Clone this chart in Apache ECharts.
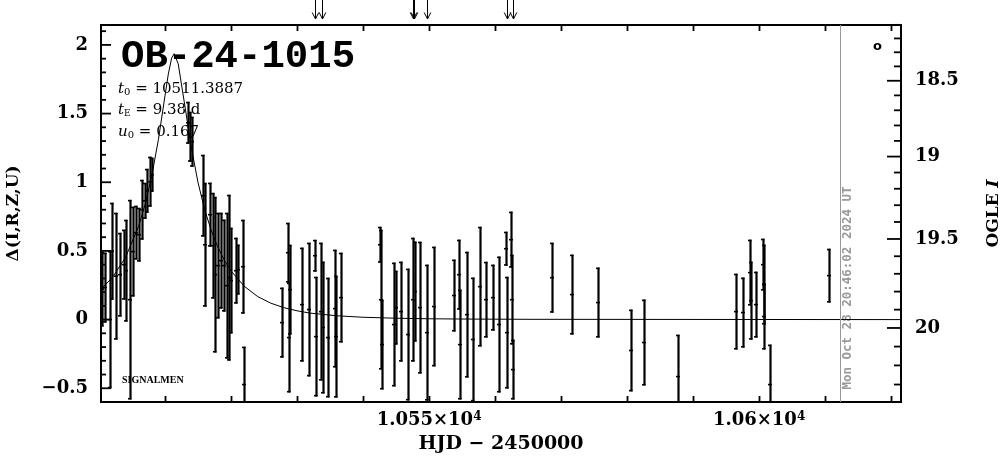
<!DOCTYPE html>
<html><head><meta charset="utf-8">
<script src="https://cdn.jsdelivr.net/npm/echarts@6/dist/echarts.min.js"></script>
<style>html,body{margin:0;padding:0;background:#fff}#c{width:1004px;height:459px}</style>
</head><body><div id="c"></div>
<script>
// ---- data ----
const hjd = [10500.45,10500.91,10501.67,10501.97,10502.58,10503.18,10503.79,10504.09,10504.70,10505.15,10505.61,10506.06,10506.52,10506.97,10507.27,10507.73,10508.03,
 10513.48,10513.79,10514.09,10515.76,10516.06,10516.82,10517.27,10517.58,10518.03,10518.48,10518.94,10519.39,10519.70,10520.00,10520.76,10521.06,10521.82,10521.97,
 10527.73,10528.64,10528.79,10528.94,10530.76,10531.82,10532.73,10532.88,10533.64,10533.94,10534.70,10535.76,10535.91,10536.67,
 10542.58,10542.73,10542.88,10544.70,10545.00,10545.76,10546.82,10547.58,10547.88,10548.64,10549.70,10550.76,
 10553.79,10554.55,10554.70,10555.76,10556.67,10557.73,10558.64,10559.70,10560.61,10561.67,10561.82,10562.42,10562.58,10562.73,
 10568.64,10571.67,10575.61,10580.61,10582.58,10587.73,10596.52,10597.58,10598.64,10598.79,10599.55,10600.61,10600.70,10600.76,10601.67,10610.61];
const delta = [0.222,0.233,0.000,0.498,0.316,0.327,0.400,0.356,0.145,0.495,0.633,0.618,0.800,0.865,0.938,1.004,1.055,
 1.433,1.331,1.295,0.902,0.545,0.764,0.538,0.327,0.393,0.429,0.393,0.247,0.305,0.284,0.356,0.364,0.385,-0.473,
 -0.022,0.487,-0.131,0.218,0.109,0.073,0.465,-0.124,0.058,-0.058,-0.131,0.080,-0.124,0.160,
 0.545,0.145,-0.182,-0.036,0.087,0.058,-0.109,0.145,0.204,0.087,-0.095,0.095,
 0.175,0.327,-0.182,0.036,-0.145,0.240,0.145,0.160,-0.036,0.516,-0.095,0.582,0.145,-0.364,
 0.305,0.182,0.124,-0.225,-0.167,-0.415,0.058,0.051,0.342,0.138,0.109,0.400,0.255,0.022,-0.473,0.320];
const err = [0.273,0.255,0.500,0.353,0.462,0.305,0.255,0.371,0.727,0.327,0.196,0.196,0.218,0.131,0.160,0.182,0.124,
 0.153,0.182,0.182,0.298,0.451,0.233,0.385,0.567,0.385,0.349,0.335,0.531,0.604,0.385,0.240,0.182,0.342,0.276,
 0.255,0.218,0.400,0.327,0.415,0.487,0.116,0.436,0.502,0.480,0.436,0.429,0.444,0.327,
 0.131,0.509,0.327,0.451,0.269,0.364,0.480,0.451,0.364,0.480,0.495,0.436,
 0.262,0.255,0.400,0.458,0.451,0.436,0.276,0.240,0.495,0.124,0.407,0.204,0.327,0.218,
 0.255,0.291,0.255,0.298,0.313,0.305,0.276,0.255,0.240,0.284,0.240,0.189,0.291,0.240,0.291,0.196];

const modelHJD = [10500.3,10502,10504,10506,10507,10508,10509,10510,10510.5,10511,10511.39,10512,10513,10514,10515,10516,10517,10518,10519,10520,10522,10524,10526,10528,10530,10532,10536,10540,10545,10550,10555,10560,10565.6,10621.5];
const modelDelta = [0.222,0.305,0.451,0.680,0.841,1.048,1.312,1.631,1.788,1.904,1.936,1.862,1.558,1.249,0.998,0.802,0.649,0.528,0.431,0.354,0.243,0.169,0.120,0.087,0.064,0.047,0.028,0.017,0.010,0.006,0.004,0.003,0.002,0.000];

const arrowHJD = [10532.73,10533.79,10547.50,10547.66,10549.70,10561.82,10562.73];
const nowHJD = 10612.36;

const xTicks = [10510,10520,10530,10540,10550,10560,10570,10580,10590,10600,10610,10620];
const xLabelMain = {10550: '1.055×10', 10600: '1.06×10'};
const xLabelExp = '4';
const leftMajor = [-0.5,0,0.5,1,1.5,2];
const leftMinor = [-0.4,-0.3,-0.2,-0.1,0.1,0.2,0.3,0.4,0.6,0.7,0.8,0.9,1.1,1.2,1.3,1.4,1.6,1.7,1.8,1.9,2.1];
const rightMajor = [18.5,19,19.5,20];
const rightMinor = [18.1,18.2,18.3,18.4,18.6,18.7,18.8,18.9,19.1,19.2,19.3,19.4,19.6,19.7,19.8,19.9,20.1,20.2,20.3];

const title = 'OB-24-1015';
const t0Text = '10511.3887', tEText = '9.38 d', u0Text = '0.167';
const dateText = 'Mon Oct 28 20:46:02 2024 UT';

// ---- axes ----
const X_MIN = 10500.3, X_MAX = 10621.5, Y_MIN = -0.6, Y_MAX = 2.145;
const X_MID = 10560, Y_MID = 1;
// OGLE I magnitude -> Delta (right-axis scale)
function magToDelta(I){ const u = I - 19.25; return 0.893 - 1.2*u - 0.096*u*u; }

const SERIF = '"DejaVu Serif", serif';
const chart = echarts.init(document.getElementById('c'), null, {renderer:'canvas'});
const AXLINE = {show:true, onZero:false, lineStyle:{color:'#000', width:2}};

// tick marks: [x, y, kind, label]  kind 0=x tick (top+bottom), 1=left major, 2=left minor, 3=right major(label), 4=right minor
const tickData = []
  .concat(xTicks.map(v=>[v, Y_MID, 0, v]))
  .concat(leftMajor.map(v=>[X_MID, v, 1, v]))
  .concat(leftMinor.map(v=>[X_MID, v, 2, v]))
  .concat(rightMajor.map(m=>[X_MID, magToDelta(m), 3, m]))
  .concat(rightMinor.map(m=>[X_MID, magToDelta(m), 4, m]));

const opt = {
  animation:false,
  backgroundColor:'#fff',
  grid:{left:101, right:103, top:25, bottom:57, show:true, borderColor:'#000', borderWidth:2, backgroundColor:'transparent', containLabel:false, outerBoundsMode:'none'},
  xAxis:[{
    type:'value', min:X_MIN, max:X_MAX, splitNumber:12, position:'bottom',
    axisLine:AXLINE, splitLine:{show:false},
    axisTick:{show:false},
    axisLabel:{margin:9, color:'#000', fontFamily:SERIF, fontWeight:'bold', fontSize:18,
      formatter:function(v){ const k=Math.round(v); if(Math.abs(v-k)<1e-6 && xLabelMain[k]) return '{a|'+xLabelMain[k]+'}{s|'+xLabelExp+'}'; return ''; },
      rich:{a:{fontFamily:SERIF, fontWeight:'bold', fontSize:18, color:'#000'}, s:{fontFamily:SERIF, fontWeight:'bold', fontSize:12, color:'#000', verticalAlign:'top', padding:[0,0,7,0]}}},
    name:'HJD − 2450000', nameLocation:'middle', nameGap:32,
    nameTextStyle:{color:'#000', fontFamily:SERIF, fontWeight:'bold', fontSize:19}
  }],
  yAxis:[{
    type:'value', min:Y_MIN, max:Y_MAX, splitNumber:5, position:'left',
    axisLine:AXLINE, splitLine:{show:false},
    axisTick:{show:false},
    axisLabel:{margin:13, color:'#000', fontFamily:SERIF, fontWeight:'bold', fontSize:18,
      formatter:function(v){ const k=Math.round(v*2); if(Math.abs(v*2-k)>1e-6) return ''; const a=k/2; return a<0?'−'+(-a):String(a); }},
    name:'Δ(I,R,Z,U)', nameLocation:'middle', nameGap:79, nameRotate:90,
    nameTextStyle:{color:'#000', fontFamily:SERIF, fontWeight:'bold', fontSize:17}
  },{
    type:'value', min:Y_MIN, max:Y_MAX, position:'right',
    axisLine:AXLINE, splitLine:{show:false}, axisTick:{show:false}, axisLabel:{show:false},
    name:'{a|OGLE }{b|I}', nameLocation:'middle', nameGap:84, nameRotate:90,
    nameTextStyle:{color:'#000', fontFamily:SERIF, fontWeight:'bold', fontSize:17,
      rich:{a:{fontFamily:SERIF, fontWeight:'bold', fontSize:17, color:'#000'}, b:{fontFamily:SERIF, fontWeight:'bold', fontStyle:'italic', fontSize:17, color:'#000'}}}
  }],
  graphic:[
    {type:'text', left:121, top:38, style:{text:title, font:'bold 39px "Liberation Mono", monospace', fill:'#000'}},
    {type:'text', left:118, top:82, style:{text:'{i|t}{s|0}{n| = '+t0Text+'}', fill:'#000', rich:{i:{font:'italic 15px '+SERIF}, s:{font:'10px '+SERIF, verticalAlign:'bottom', padding:[6,0,0,0]}, n:{font:'15px '+SERIF}}}},
    {type:'text', left:118, top:103, style:{text:'{i|t}{s|E}{n| = '+tEText+'}', fill:'#000', rich:{i:{font:'italic 15px '+SERIF}, s:{font:'9px '+SERIF, verticalAlign:'bottom', padding:[6,0,0,0]}, n:{font:'15px '+SERIF}}}},
    {type:'text', left:118, top:125, style:{text:'{i|u}{s|0}{n| = '+u0Text+'}', fill:'#000', rich:{i:{font:'italic 15px '+SERIF}, s:{font:'10px '+SERIF, verticalAlign:'bottom', padding:[6,0,0,0]}, n:{font:'15px '+SERIF}}}},
    {type:'text', left:122, top:375, style:{text:'SIGNALMEN', font:'bold 10px "Liberation Serif", serif', fill:'#000'}},
    {type:'text', left:873, top:40, style:{text:'o', font:'bold 13px "DejaVu Sans", sans-serif', fill:'#000'}},
    {type:'text', x:848, y:288, rotation:Math.PI/2, style:{text:dateText, font:'bold 12.5px "DejaVu Sans Mono", monospace', fill:'#9a9a9a', align:'center', verticalAlign:'middle', textAlign:'center', textVerticalAlign:'middle'}}
  ],
  series:[
    {type:'line', xAxisIndex:0, yAxisIndex:0, data:modelHJD.map((x,i)=>[x, modelDelta[i]]), showSymbol:false, symbol:'none',
     lineStyle:{color:'#000', width:1}, clip:true, silent:true, z:3,
     markLine:{silent:true, symbol:'none', label:{show:false}, lineStyle:{color:'#999', width:1, type:'solid'}, data:[{xAxis:nowHJD}]}},
    {type:'custom', xAxisIndex:0, yAxisIndex:0, clip:true, z:4,
     data:hjd.map((x,i)=>[x, delta[i], err[i]]), encode:{x:0, y:1},
     renderItem:function(params, api){
       const x=api.value(0), y=api.value(1), e=api.value(2);
       const t=api.coord([x, y+e]), b=api.coord([x, y-e]), m=api.coord([x, y]);
       const px=Math.round(m[0])+0.5;
       return {type:'group', children:[
         {type:'line', shape:{x1:px, y1:t[1], x2:px, y2:b[1]}, style:{stroke:'#000', lineWidth:2.2}},
         {type:'line', shape:{x1:px-2.5, y1:t[1]+0.8, x2:px+1, y2:t[1]+0.8}, style:{stroke:'#000', lineWidth:1.6}},
         {type:'line', shape:{x1:px-2.5, y1:b[1]-0.8, x2:px+1, y2:b[1]-0.8}, style:{stroke:'#000', lineWidth:1.6}},
         {type:'line', shape:{x1:px-2.5, y1:m[1], x2:px+1.5, y2:m[1]}, style:{stroke:'#000', lineWidth:1.6}}
       ]};
     }},
    {type:'custom', xAxisIndex:0, yAxisIndex:0, clip:false, silent:true, z:6,
     data:tickData, encode:{x:0, y:1},
     renderItem:function(params, api){
       const kind=api.value(2);
       const cs=params.coordSys;
       const L=cs.x, R=cs.x+cs.width, T=cs.y, B=cs.y+cs.height;
       const p=api.coord([api.value(0), api.value(1)]);
       if(kind===0){
         const x=Math.round(p[0])+0.5;
         return {type:'group', children:[
           {type:'line', shape:{x1:x, y1:B, x2:x, y2:B-6}, style:{stroke:'#000', lineWidth:1.8}},
           {type:'line', shape:{x1:x, y1:T, x2:x, y2:T+6}, style:{stroke:'#000', lineWidth:1.8}}
         ]};
       }
       if(kind===1||kind===2){
         return {type:'group', children:[
           {type:'line', shape:{x1:L, y1:p[1], x2:L+(kind===1?10:5), y2:p[1]}, style:{stroke:'#000', lineWidth:1.8}}
         ]};
       }
       const major=kind===3;
       const len=major?14:7;
       const ch=[{type:'line', shape:{x1:R-len, y1:p[1], x2:R, y2:p[1]}, style:{stroke:'#000', lineWidth:1.8}}];
       if(major){
         ch.push({type:'text', x:R+14, y:p[1], style:{text:String(api.value(3)), font:'bold 18px '+SERIF, fill:'#000', align:'left', verticalAlign:'middle', textAlign:'left', textVerticalAlign:'middle'}});
       }
       return {type:'group', children:ch};
     }},
    {type:'custom', xAxisIndex:0, yAxisIndex:0, clip:false, silent:true, z:5,
     data:arrowHJD.map(h=>[h, Y_MAX]), encode:{x:0, y:1},
     renderItem:function(params, api){
       const p=api.coord([api.value(0), api.value(1)]);
       const x=Math.round(p[0])+0.5, tip=p[1]-6;
       return {type:'group', children:[
         {type:'line', shape:{x1:x, y1:p[1]-25, x2:x, y2:tip}, style:{stroke:'#000', lineWidth:1}},
         {type:'polyline', shape:{points:[[x-3.3, tip-6.5],[x, tip],[x+3.3, tip-6.5]]}, style:{stroke:'#000', lineWidth:1, fill:null}}
       ]};
     }}
  ]
};
chart.setOption(opt);
</script>
</body></html>
